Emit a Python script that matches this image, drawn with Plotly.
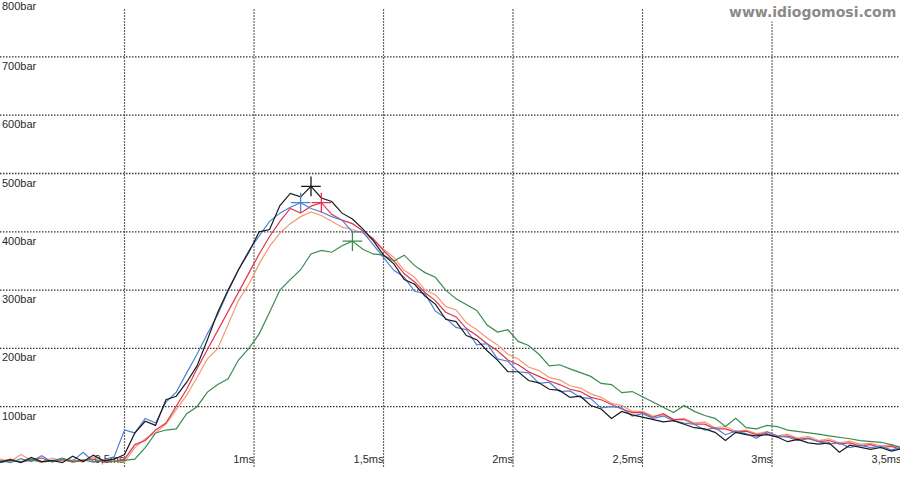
import plotly.graph_objects as go

# sampling grid (ms)
time_ms = [0.02, 0.06, 0.10, 0.14, 0.18, 0.22, 0.26, 0.30, 0.34, 0.38,
           0.42, 0.46, 0.50, 0.54, 0.58, 0.62, 0.66, 0.70, 0.74, 0.78,
           0.82, 0.86, 0.90, 0.94, 0.98, 1.02, 1.06, 1.10, 1.14, 1.18,
           1.22, 1.26, 1.30, 1.34, 1.38, 1.42, 1.46, 1.50, 1.54, 1.58,
           1.62, 1.66, 1.70, 1.74, 1.78, 1.82, 1.86, 1.90, 1.94, 1.98,
           2.02, 2.06, 2.10, 2.14, 2.18, 2.22, 2.26, 2.30, 2.34, 2.38,
           2.42, 2.46, 2.50, 2.54, 2.58, 2.62, 2.66, 2.70, 2.74, 2.78,
           2.82, 2.86, 2.90, 2.94, 2.98, 3.02, 3.06, 3.10, 3.14, 3.18,
           3.22, 3.26, 3.30, 3.34, 3.38, 3.42, 3.46, 3.50]

black_bar = [5, 9, 4, 13, 6, 8, 4, 15, 6, 17,
             7, 10, 18, 55, 75, 68, 112, 118, 142, 170,
             215, 262, 300, 335, 365, 400, 404, 445, 466, 460,
             478, 458, 452, 432, 422, 405, 385, 360, 345, 318,
             310, 290, 276, 250, 246, 222, 215, 196, 180, 160,
             160, 145, 141, 130, 128, 116, 118, 102, 96, 80,
             92, 86, 82, 78, 74, 76, 70, 64, 62, 56,
             42, 56, 52, 50, 52, 48, 40, 44, 38, 36,
             38, 22, 34, 31, 27, 30, 24, 28]

blue_bar = [8, 4, 11, 6, 16, 5, 10, 7, 22, 6,
            9, 14, 60, 55, 80, 72, 108, 125, 158, 190,
            225, 258, 298, 335, 368, 392, 418, 432, 442, 450,
            440, 434, 426, 420, 400, 400, 378, 358, 334, 322,
            298, 294, 264, 252, 236, 232, 206, 208, 182, 178,
            160, 158, 140, 142, 126, 127, 116, 114, 98, 100,
            98, 84, 88, 80, 84, 76, 72, 70, 60, 64,
            52, 58, 54, 46, 57, 50, 48, 42, 45, 40,
            36, 38, 30, 34, 30, 32, 26, 30]

red_bar = [6, 10, 5, 8, 12, 6, 9, 5, 8, 10,
           5, 6, 10, 35, 42, 60, 72, 100, 130, 165,
           198, 230, 262, 295, 330, 362, 392, 418, 440, 432,
           444, 450, 430, 420, 414, 402, 388, 368, 350, 328,
           314, 296, 282, 262, 254, 234, 222, 208, 196, 180,
           172, 160, 152, 144, 138, 130, 126, 116, 112, 104,
           96, 90, 90, 82, 88, 78, 78, 70, 70, 62,
           62, 56, 58, 52, 54, 48, 50, 44, 46, 40,
           42, 36, 38, 33, 35, 30, 32, 27]

orange_bar = [10, 6, 18, 8, 5, 12, 7, 9, 5, 14,
              8, 6, 5, 30, 45, 55, 70, 95, 120, 150,
              182, 200, 240, 282, 310, 345, 375, 398, 414, 426,
              434, 428, 418, 408, 404, 398, 386, 370, 356, 334,
              322, 300, 292, 272, 266, 244, 232, 218, 206, 190,
              182, 168, 162, 150, 146, 136, 132, 122, 116, 106,
              102, 92, 92, 84, 86, 78, 80, 72, 74, 64,
              66, 58, 60, 54, 57, 50, 53, 46, 49, 42,
              45, 38, 41, 36, 37, 33, 34, 30]

green_bar = [4, 8, 6, 10, 5, 7, 12, 6, 9, 5,
             8, 6, 8, 10, 30, 55, 60, 62, 88, 100,
             125, 138, 148, 180, 200, 225, 262, 300, 318, 335,
             362, 368, 365, 376, 384, 370, 362, 360, 350, 360,
             342, 330, 322, 300, 285, 275, 265, 240, 228, 232,
             212, 205, 190, 170, 172, 165, 158, 152, 140, 138,
             124, 126, 117, 108, 98, 90, 102, 92, 85, 80,
             66, 80, 64, 62, 68, 66, 60, 58, 55, 53,
             50, 48, 45, 42, 40, 39, 35, 30]

x_ticks = [0.5, 1.0, 1.5, 2.0, 2.5, 3.0, 3.5]
x_tick_labels = ["0,5ms", "1ms", "1,5ms", "2ms", "2,5ms", "3ms", "3,5ms"]
y_ticks = [100, 200, 300, 400, 500, 600, 700, 800]
y_tick_labels = ["100bar", "200bar", "300bar", "400bar", "500bar", "600bar", "700bar", "800bar"]

series = [
    ("orange", orange_bar, "#f39a72", False),
    ("red", red_bar, "#e3334f", True),
    ("blue", blue_bar, "#4f80d8", True),
    ("green", green_bar, "#3c8a50", True),
    ("black", black_bar, "#1a1a1a", True),
]

Y_MAX = 797.6

fig = go.Figure()

# x tick labels drawn first (under the traces)
fig.add_trace(go.Scatter(
    x=x_ticks, y=[8] * len(x_ticks), mode="text", text=x_tick_labels,
    textposition="middle left", cliponaxis=True, hoverinfo="skip",
    textfont=dict(family="Liberation Sans, Arial", size=11, color="#2a2a2a"),
    showlegend=False))

for name, vals, col, peak in series:
    fig.add_trace(go.Scatter(x=time_ms, y=vals, mode="lines", name=name,
                             line=dict(color=col, width=1.2), showlegend=False))
for name, vals, col, peak in series:
    if peak:
        i = vals.index(max(vals))
        fig.add_trace(go.Scatter(x=[time_ms[i]], y=[vals[i]], mode="markers",
                                 marker=dict(symbol="cross-thin", size=14,
                                             line=dict(color=col, width=1.3)),
                                 showlegend=False))

shapes = []
for xv in x_ticks:
    shapes.append(dict(type="line", xref="x", yref="y", x0=xv, x1=xv, y0=-3, y1=783,
                       line=dict(color="#333333", width=1.2, dash="1.5px,1.5px"), layer="below"))
for yv in y_ticks[:-1]:
    shapes.append(dict(type="line", xref="paper", yref="y", x0=0, x1=1, y0=yv, y1=yv,
                       line=dict(color="#333333", width=1.3, dash="1.5px,1.5px"), layer="below"))

annotations = []
for yv, lab in zip(y_ticks, y_tick_labels):
    ypos = min(yv, Y_MAX - 0.5)
    annotations.append(dict(xref="paper", yref="y", x=0, y=ypos, xanchor="left", yanchor="top",
                            yshift=-1 if yv < Y_MAX else 2, text=lab, showarrow=False,
                            font=dict(family="Liberation Sans, Arial", size=11, color="#2a2a2a")))
annotations.append(dict(xref="paper", yref="paper", x=0.998, y=1, xanchor="right", yanchor="top",
                        yshift=-2, text="<b>www.idiogomosi.com</b>", showarrow=False,
                        bgcolor="white",
                        font=dict(family="DejaVu Sans", size=14, color="#8a8a8a")))

fig.update_layout(
    width=900, height=500,
    margin=dict(l=0, r=0, t=0, b=0),
    paper_bgcolor="white", plot_bgcolor="white",
    shapes=shapes, annotations=annotations,
    xaxis=dict(range=[0.0193, 3.494], showgrid=False, zeroline=False,
               showticklabels=False, ticks=""),
    yaxis=dict(range=[-60, Y_MAX], showgrid=False, zeroline=False,
               showticklabels=False, ticks=""),
)

fig.write_html("out.html", config={"displayModeBar": False},
               post_script="document.body.style.margin='0';document.body.style.overflow='hidden';")
